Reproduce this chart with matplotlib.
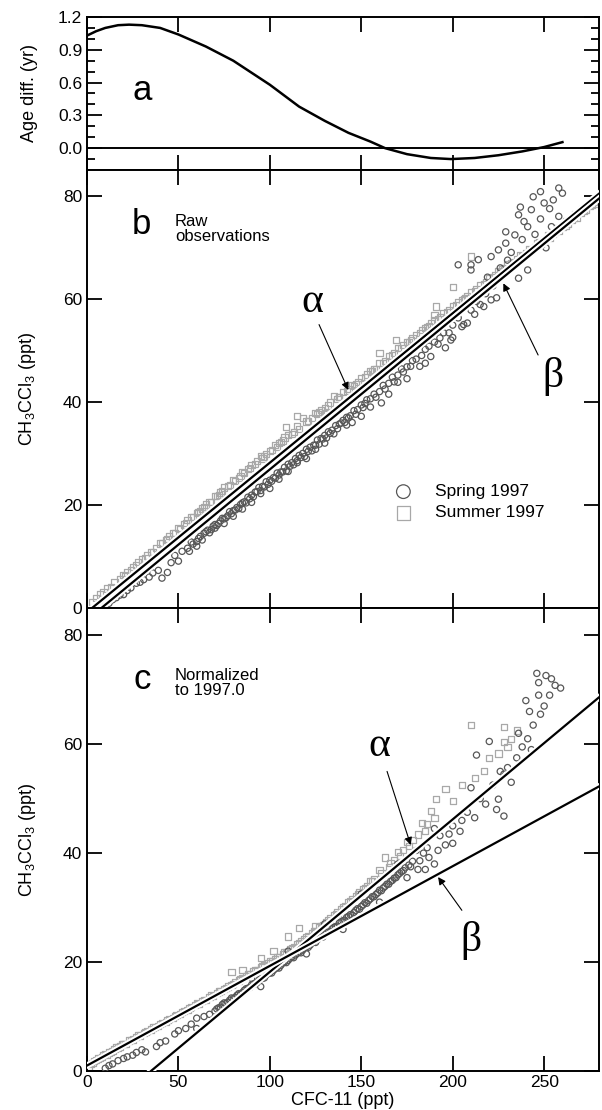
import matplotlib
matplotlib.use("Agg")
import matplotlib.pyplot as plt
import matplotlib.patheffects as pe
from matplotlib.ticker import MultipleLocator, FormatStrFormatter

plt.rcParams['font.family'] = ['Liberation Sans', 'DejaVu Sans']
plt.rcParams['mathtext.fontset'] = 'custom'
plt.rcParams['mathtext.rm'] = 'Liberation Sans'
plt.rcParams['mathtext.default'] = 'regular'

# ---- panel a: age difference curve ----
age_x = [0, 5, 10, 17, 23, 30, 40, 50, 65, 80, 100, 116, 130, 143, 155, 163, 175, 188, 199, 212, 225, 238, 250, 260]
age_y = [1.03, 1.07, 1.10, 1.125, 1.13, 1.125, 1.10, 1.04, 0.93, 0.80, 0.58, 0.38, 0.25, 0.14, 0.06, 0.0,
         -0.055, -0.09, -0.10, -0.09, -0.065, -0.03, 0.01, 0.055]

# ---- panel b: raw observations ----
b_sum_x = [3, 5, 7, 9, 11, 13, 15, 18, 20, 22, 25, 27, 30, 32, 35, 38, 40, 43, 45, 48, 50, 53, 55, 58, 60,
           63, 65, 68, 70, 73, 75, 78, 80, 83, 85, 88, 90, 93, 95, 98, 100, 103, 105, 108, 110, 113, 115, 118,
           120, 123, 125, 128, 130, 133, 135, 138, 140, 143, 145, 148, 150, 153, 155, 158, 160, 163, 165, 168,
           170, 173, 175, 178, 180, 183, 185, 188, 190, 193, 195, 198, 200, 203, 205, 208, 210, 213, 215, 218,
           220, 223, 225, 228, 230, 233, 235, 238, 240, 243, 245, 248, 250, 253, 255, 258, 260, 263, 265, 268,
           270, 273, 275, 278,
           109, 115, 131, 138, 160, 169, 190, 191, 210, 200, 62, 72, 84, 96, 106, 126, 146, 156, 176, 186,
           206, 226, 246, 262, 272, 276, 266, 256]
b_sum_y = [1.2, 1.9, 2.6, 3.0, 3.8, 4.1, 5.0, 5.6, 6.4, 6.9, 8.0, 8.3, 9.4, 9.6, 10.9, 11.6, 12.5, 13.2, 14.0,
           14.6, 15.6, 16.2, 17.1, 17.6, 18.5, 19.3, 20.1, 20.6, 21.8, 22.4, 23.4, 23.9, 24.8, 25.3, 26.4, 26.9,
           27.8, 28.6, 29.5, 29.9, 30.4, 31.6, 32.0, 33.1, 33.6, 34.2, 35.3, 36.9, 36.2, 36.8, 37.9, 38.5, 38.8,
           39.9, 41.2, 41.0, 41.9, 42.5, 43.2, 43.8, 44.6, 45.3, 46.0, 46.4, 47.5, 48.0, 48.9, 49.5, 50.4, 51.0,
           51.6, 52.3, 53.0, 53.9, 54.4, 55.2, 55.8, 56.5, 57.2, 57.8, 58.6, 59.3, 59.8, 60.6, 61.3, 61.9, 62.7,
           63.2, 64.1, 64.6, 65.4, 65.9, 66.7, 67.2, 67.8, 68.3, 68.9, 69.4, 70.1, 70.6, 71.3, 71.9, 72.6, 73.2,
           73.9, 74.6, 75.3, 75.8, 76.6, 77.2, 78.0, 78.5,
           35.1, 37.3, 37.8, 41.0, 49.5, 52.0, 56.9, 58.5, 68.2, 62.3, 18.8, 22.0, 25.6, 29.0, 32.2, 37.6, 43.1,
           45.9, 51.6, 54.5, 60.0, 65.2, 70.8, 74.2, 77.0, 78.3, 75.8, 72.9]
b_sum_band_x = [21, 24, 28, 33, 36, 41, 44, 47, 51, 54, 57, 61, 64, 67, 71, 74, 77, 81, 86, 89, 92, 97, 101,
                104, 107, 112, 116, 121, 127, 132, 137, 142, 147, 152, 157, 162, 167, 172, 177, 182, 187, 192,
                197, 202, 207, 212, 217, 222, 227, 232, 237, 242, 247, 252, 257, 262, 267, 271, 277, 279]
b_sum_band_y = [6.2, 7.3, 8.9, 10.2, 10.8, 12.6, 13.4, 14.5, 15.4, 16.5, 17.6, 18.7, 19.6, 20.6, 21.7, 22.7,
                23.6, 24.6, 26.2, 27.2, 27.9, 29.4, 30.6, 31.2, 32.5, 33.7, 34.8, 36.3, 38.0, 39.3, 40.5, 42.1,
                43.4, 44.8, 46.3, 47.6, 49.0, 50.4, 51.9, 53.3, 54.7, 56.0, 57.4, 58.7, 60.1, 61.5, 62.8, 64.3,
                65.7, 67.0, 68.4, 69.6, 71.1, 72.4, 73.7, 75.1, 76.4, 77.4, 78.9, 79.3]

b_spr_x = [8, 10, 12, 14, 16, 18, 20, 22, 24, 27, 29, 31, 34, 36, 39, 41, 44, 46, 48, 50, 52, 55, 57, 60, 62,
           64, 66, 68, 70, 72, 74, 76, 78, 80, 82, 84, 86, 88, 90, 92, 94, 96, 98, 100, 102, 104, 106, 108, 110,
           112, 114, 116, 118, 120, 122, 124, 126, 128, 130, 132, 134, 136, 138, 140, 142, 144, 146, 148, 150,
           152, 155, 157, 160, 162, 165, 167, 170, 172, 175, 178, 180, 182, 185, 188, 190, 193, 196, 198, 200,
           203, 206, 208, 210, 213, 215, 217, 221, 224, 225, 221, 203, 210, 214, 210, 229, 234, 236, 241, 243,
           248, 250, 251, 258, 260, 241, 236, 238, 232, 245, 248, 253, 255, 230, 226, 219, 244, 239, 229, 237,
           254, 258, 246, 161, 150, 165, 175, 135, 120, 100, 80, 60, 90, 110, 130, 145, 170, 185, 200, 142, 125,
           105, 85, 70, 75, 95, 115, 155]
b_spr_y = [0.4, 1.0, 0.9, 1.6, 2.0, 2.5, 2.6, 3.4, 3.9, 4.8, 5.0, 5.5, 6.0, 6.8, 7.3, 5.8, 6.9, 8.8, 10.2, 9.1,
           11.0, 11.6, 12.8, 12.9, 13.9, 14.5, 15.1, 15.2, 16.2, 16.4, 17.4, 17.5, 18.7, 18.9, 19.5, 20.1, 20.6,
           21.5, 21.9, 22.5, 23.4, 23.6, 24.5, 24.8, 25.3, 26.2, 26.4, 27.3, 27.9, 28.2, 29.0, 29.6, 30.0, 30.8,
           31.2, 31.6, 32.6, 32.9, 33.5, 34.2, 34.5, 35.4, 35.7, 36.4, 37.0, 37.3, 38.3, 38.5, 39.4, 39.7, 40.6,
           41.5, 42.0, 43.2, 43.6, 44.8, 45.2, 46.4, 46.8, 48.0, 48.3, 46.9, 50.2, 48.8, 51.6, 52.4, 50.5, 53.4,
           54.9, 56.3, 55.0, 55.3, 57.8, 59.5, 58.9, 58.5, 59.8, 60.2, 69.5, 68.2, 66.6, 66.6, 67.6, 65.6, 70.8,
           72.4, 76.3, 74.0, 77.3, 80.8, 78.6, 69.9, 81.5, 80.5, 65.6, 64.0, 71.5, 69.0, 72.5, 75.5, 77.5, 79.2,
           67.5, 66.0, 64.2, 79.8, 75.0, 73.0, 77.8, 74.0, 76.0, 70.0, 39.8, 37.2, 41.5, 44.5, 33.8, 29.0, 23.2,
           17.8, 12.0, 20.5, 26.5, 32.0, 36.0, 43.8, 47.5, 52.5, 35.5, 30.8, 25.0, 19.2, 15.5, 16.4, 22.2, 28.2,
           39.0]
b_spr_band_x = [56, 58, 61, 63, 65, 67, 69, 71, 73, 75, 77, 79, 81, 83, 85, 87, 89, 91, 93, 95, 97, 99, 101,
                103, 105, 107, 109, 111, 113, 115, 117, 119, 121, 123, 125, 127, 129, 131, 133, 137, 139, 141,
                143, 147, 151, 153, 158, 163, 168, 173, 177, 183, 187, 192, 195, 199, 205, 212, 218, 222]
b_spr_band_y = [11.0, 12.4, 13.5, 13.2, 14.8, 14.6, 15.9, 16.0, 16.9, 17.3, 17.9, 18.3, 19.0, 19.3, 20.4,
                20.4, 21.2, 21.6, 22.6, 22.8, 23.5, 24.0, 24.6, 25.2, 25.8, 26.4, 26.6, 27.5, 27.8, 28.6, 29.2,
                29.4, 30.4, 30.5, 31.6, 31.8, 32.8, 33.0, 33.9, 34.8, 35.9, 36.0, 36.9, 37.6, 38.9, 40.4, 40.9,
                42.5, 43.9, 45.8, 46.9, 49.0, 50.8, 51.2, 53.4, 52.0, 54.6, 57.0, 61.0, 62.5]

# ---- panel c: normalized to 1997.0 ----
c_sum_x = [1, 3, 5, 7, 9, 11, 13, 15, 17, 19, 21, 23, 25, 27, 29, 31, 33, 35, 37, 39, 41, 43, 45, 47, 49, 51,
           53, 55, 57, 59, 61, 63, 65, 67, 69, 71, 73, 75, 77, 79, 81, 83, 85, 87, 89, 91, 93, 95, 97, 99, 101,
           103, 105, 107, 109, 111, 113, 115, 117, 119, 121, 123, 125, 127, 129, 131, 133, 135, 137, 139, 141,
           143, 145, 147, 149, 151, 153, 155, 157, 160, 163, 165, 168, 170, 173, 175, 178, 185, 190, 191, 196,
           217, 225, 232, 228, 210, 205, 200, 212, 220, 183, 188, 79, 110, 116, 125, 95, 102, 85, 230, 235, 228]
c_sum_y = [0.8, 1.5, 2.0, 2.4, 2.9, 3.0, 3.5, 4.0, 4.3, 4.9, 5.0, 5.6, 5.8, 6.3, 6.5, 7.0, 7.3, 7.6, 8.1, 8.3,
           8.8, 9.0, 9.5, 9.7, 10.3, 10.5, 11.0, 11.2, 11.7, 12.1, 12.3, 12.9, 13.0, 13.6, 13.8, 14.3, 14.7,
           15.0, 15.5, 15.8, 16.3, 16.6, 17.1, 17.4, 17.8, 18.3, 18.6, 19.0, 19.5, 19.8, 20.2, 20.6, 21.0, 21.5,
           21.9, 22.4, 22.7, 23.3, 23.8, 24.2, 24.8, 25.3, 25.7, 26.4, 26.8, 27.4, 28.0, 28.6, 29.1, 29.8, 30.3,
           31.0, 31.6, 32.1, 32.9, 33.4, 34.0, 34.8, 35.3, 36.9, 39.2, 37.5, 38.8, 40.2, 40.5, 42.0, 42.4, 44.1,
           46.4, 49.9, 51.8, 55.1, 58.3, 61.0, 63.1, 63.5, 52.5, 49.5, 53.8, 57.5, 45.5, 47.8, 18.2, 24.7, 26.3,
           26.6, 20.8, 22.0, 18.5, 59.5, 62.5, 60.4]
c_sum_band_x = [2, 4, 6, 8, 10, 12, 14, 16, 18, 20, 24, 28, 32, 36, 40, 44, 48, 52, 56, 60, 64, 68, 72, 76,
                80, 84, 88, 92, 96, 100, 104, 108, 112, 116, 120, 124, 128, 132, 136, 140, 144, 148, 152, 156,
                161, 166, 171, 176, 181, 186]
c_sum_band_y = [1.3, 1.8, 2.3, 2.5, 3.1, 3.4, 3.7, 4.3, 4.5, 5.0, 5.7, 6.6, 7.2, 8.0, 8.7, 9.4, 10.1, 10.8,
                11.6, 12.4, 13.1, 13.9, 14.6, 15.3, 16.0, 16.9, 17.7, 18.5, 19.3, 20.1, 20.9, 21.8, 22.6, 23.5,
                24.5, 25.6, 26.6, 27.7, 28.8, 30.1, 31.2, 32.4, 33.6, 34.9, 36.4, 38.2, 39.5, 41.3, 43.4, 45.3]

c_spr_x = [10, 12, 14, 17, 20, 22, 25, 27, 30, 32, 38, 40, 43, 48, 50, 54, 57, 60, 60, 64, 67, 70, 72, 74, 76,
           78, 80, 82, 84, 86, 88, 90, 92, 94, 96, 98, 100, 102, 104, 106, 108, 110, 112, 114, 116, 118, 120,
           122, 124, 126, 128, 130, 132, 134, 136, 138, 140, 142, 144, 146, 148, 150, 152, 154, 156, 158, 160,
           162, 164, 166, 168, 170, 172, 174, 176, 178, 181, 184, 187, 190, 193, 196, 200, 204, 208, 212, 215,
           218, 222, 225, 228, 230, 232, 235, 238, 240, 241, 243, 247, 251, 259, 248, 244, 250, 253, 256, 247,
           242, 236, 226, 220, 224, 228, 246, 254, 213, 210, 200, 190, 180, 170, 150, 130, 110, 90, 95, 120, 140,
           160, 175, 185]
c_spr_y = [0.5, 1.0, 1.3, 1.9, 2.3, 2.6, 2.9, 3.4, 3.9, 3.5, 4.5, 5.2, 5.5, 6.8, 7.4, 7.8, 8.6, 9.7, 7.8, 10.0,
           10.4, 11.0, 11.6, 12.2, 12.4, 13.0, 13.3, 13.9, 14.2, 14.8, 15.2, 15.8, 16.0, 16.7, 17.0, 17.6, 18.0,
           18.5, 19.0, 19.4, 20.0, 20.3, 20.9, 21.3, 21.8, 22.2, 22.8, 23.1, 23.7, 24.1, 24.6, 25.1, 25.5, 26.1,
           26.5, 27.2, 27.6, 28.2, 28.7, 29.1, 29.8, 30.2, 30.9, 31.3, 32.0, 32.4, 33.2, 33.6, 34.3, 34.8, 35.4,
           36.0, 36.6, 37.3, 37.8, 38.5, 37.0, 40.0, 39.2, 38.0, 43.2, 41.5, 45.0, 44.0, 47.5, 46.5, 50.0, 49.0,
           52.5, 49.9, 54.5, 55.7, 53.0, 57.5, 59.5, 68.0, 61.0, 59.0, 71.3, 72.6, 70.3, 65.5, 63.5, 67.0, 69.0,
           70.8, 69.0, 66.0, 62.0, 55.0, 60.5, 48.0, 46.8, 73.0, 72.0, 58.0, 52.0, 41.8, 44.5, 40.5, 38.0, 32.5,
           27.0, 22.0, 17.0, 15.5, 21.5, 26.0, 31.0, 35.5, 37.0]
c_spr_band_x = [71, 73, 75, 77, 79, 81, 83, 85, 87, 89, 91, 93, 95, 97, 99, 101, 103, 105, 107, 109, 111, 113,
                115, 117, 119, 121, 123, 125, 127, 129, 131, 133, 135, 137, 139, 141, 143, 145, 147, 149, 151,
                153, 155, 157, 159, 161, 163, 165, 167, 169, 171, 173, 177, 182, 186, 192, 198, 205]
c_spr_band_y = [11.4, 11.7, 12.5, 12.6, 13.4, 13.5, 14.2, 14.4, 15.1, 15.3, 16.0, 16.2, 16.9, 17.1, 17.9,
                18.0, 18.8, 18.9, 19.8, 19.9, 20.7, 20.8, 21.6, 21.7, 22.6, 22.7, 23.5, 23.6, 24.5, 24.6, 25.4,
                25.6, 26.4, 26.6, 27.4, 27.7, 28.4, 28.6, 29.5, 29.7, 30.5, 30.8, 31.6, 32.0, 32.7, 33.1, 33.9,
                34.3, 35.0, 35.5, 36.3, 36.8, 37.5, 38.6, 41.0, 40.5, 43.5, 46.0]

# regression lines (intercept, slope)
b_alpha = (-0.8, 0.290)
b_beta = (-2.3, 0.292)
c_alpha = (-9.8, 0.280)
c_beta = (1.0, 0.183)

spring_color = '#575757'
summer_color = '#a8a8a8'

fig = plt.figure(figsize=(6.02, 11.10), dpi=100)
left, width = 87 / 602, 512 / 602
ax_a = fig.add_axes([left, 1 - 170 / 1110, width, 153 / 1110])
ax_b = fig.add_axes([left, 1 - 608 / 1110, width, 438 / 1110])
ax_c = fig.add_axes([left, 1 - 1071 / 1110, width, 463 / 1110])


def style_axis(ax):
    ax.set_xlim(0, 280)
    ax.xaxis.set_major_locator(MultipleLocator(50))
    ax.tick_params(which='both', direction='in', top=True, right=True, width=1.3, labelsize=12.5)
    ax.tick_params(which='major', length=11)
    ax.tick_params(which='minor', length=6)
    ax.tick_params(axis='y', pad=3.5)
    ax.tick_params(axis='x', pad=3)
    for sp in ax.spines.values():
        sp.set_linewidth(1.4)
    ax.yaxis.set_label_coords(-0.095, 0.5)


# ---- a ----
ax_a.plot(age_x, age_y, color='k', lw=1.8)
ax_a.axhline(0, color='k', lw=1.4)
ax_a.set_ylim(-0.2, 1.2)
ax_a.yaxis.set_major_locator(MultipleLocator(0.3))
ax_a.yaxis.set_minor_locator(MultipleLocator(0.1))
ax_a.yaxis.set_major_formatter(FormatStrFormatter('%.1f'))
style_axis(ax_a)
ax_a.set_xticklabels([])
ax_a.set_ylabel('Age diff. (yr)', fontsize=13)
ax_a.text(0.107, 0.52, 'a', transform=ax_a.transAxes, fontsize=25, ha='center', va='center')

halo = [pe.Stroke(linewidth=4.5, foreground='white'), pe.Normal()]


def draw_panel(ax, sum_x, sum_y, spr_x, spr_y, alpha_line, beta_line):
    ax.scatter(sum_x, sum_y, s=20, marker='s', facecolors='none', edgecolors=summer_color,
               linewidths=0.9, label='Summer 1997', zorder=2)
    ax.scatter(spr_x, spr_y, s=20, marker='o', facecolors='none', edgecolors=spring_color,
               linewidths=0.9, label='Spring 1997', zorder=3)
    for b0, m in (alpha_line, beta_line):
        ax.axline((0, b0), slope=m, color='k', lw=1.6, zorder=4, path_effects=halo)
    ax.set_ylim(0, 85)
    ax.yaxis.set_major_locator(MultipleLocator(20))
    style_axis(ax)
    ax.set_ylabel(r'CH$_3$CCl$_3$ (ppt)', fontsize=13)


greek = dict(fontsize=30, family=['Liberation Serif', 'DejaVu Serif'], ha='center', va='center')
arrow = dict(arrowstyle='-|>', color='k', lw=0.8, mutation_scale=11, shrinkA=0, shrinkB=0)

# ---- b ----
draw_panel(ax_b, b_sum_x + b_sum_band_x, b_sum_y + b_sum_band_y,
           b_spr_x + b_spr_band_x, b_spr_y + b_spr_band_y, b_alpha, b_beta)
ax_b.set_xticklabels([])
ax_b.text(0.107, 0.876, 'b', transform=ax_b.transAxes, fontsize=25, ha='center', va='center')
ax_b.text(0.172, 0.866, 'Raw\nobservations', transform=ax_b.transAxes, fontsize=12,
          ha='left', va='center', linespacing=1.0)
ax_b.text(123, 59.4, 'α', **greek)
ax_b.annotate('', xy=(142.9, 42.3), xytext=(126.9, 55.0), arrowprops=arrow, zorder=5)
ax_b.text(255, 44.9, 'β', **greek)
ax_b.annotate('', xy=(227.7, 63.0), xytext=(246.7, 49.1), arrowprops=arrow, zorder=5)
h, l = ax_b.get_legend_handles_labels()
ax_b.legend(h[::-1], l[::-1], loc='upper left', bbox_to_anchor=(0.584, 0.283), frameon=False,
            markerscale=2.2, fontsize=12.5, labelspacing=0.35, handletextpad=0.8,
            borderpad=0, borderaxespad=0)

# ---- c ----
draw_panel(ax_c, c_sum_x + c_sum_band_x, c_sum_y + c_sum_band_y,
           c_spr_x + c_spr_band_x, c_spr_y + c_spr_band_y, c_alpha, c_beta)
ax_c.set_xlabel('CFC-11 (ppt)', fontsize=13, labelpad=1)
ax_c.text(0.107, 0.845, 'c', transform=ax_c.transAxes, fontsize=25, ha='center', va='center')
ax_c.text(0.172, 0.838, 'Normalized\nto 1997.0', transform=ax_c.transAxes, fontsize=12,
          ha='left', va='center', linespacing=1.0)
ax_c.text(159.6, 59.8, 'α', **greek)
ax_c.annotate('', xy=(177, 41.5), xytext=(164.1, 55.0), arrowprops=arrow, zorder=5)
ax_c.text(210, 24.0, 'β', **greek)
ax_c.annotate('', xy=(192, 35.6), xytext=(205, 29.5), arrowprops=arrow, zorder=5)

fig.savefig('out.png', dpi=100)
